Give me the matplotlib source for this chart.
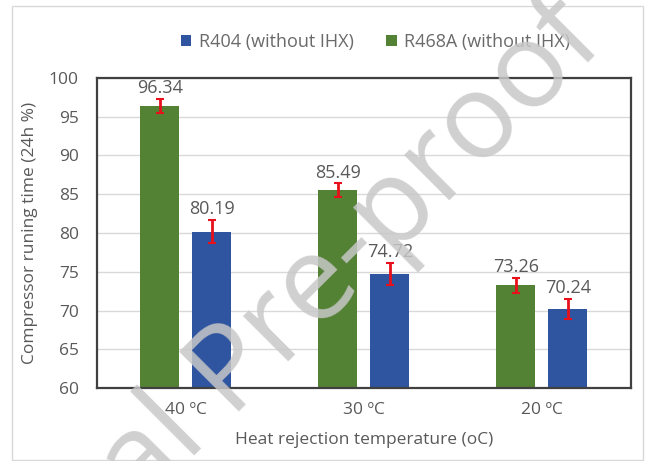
import matplotlib.pyplot as plt
import numpy as np
from matplotlib.patches import Rectangle

plt.rcParams['font.family'] = ['Open Sans', 'DejaVu Sans']

temps = ["40 ºC", "30 ºC", "20 ºC"]
r468a = [96.34, 85.49, 73.26]
r404 = [80.19, 74.72, 70.24]
r468a_err = [0.9, 0.9, 1.0]
r404_err = [1.5, 1.4, 1.3]

green = "#548235"
blue = "#2F55A0"
grey_txt = "#595959"

fig = plt.figure(figsize=(6.45, 4.61), dpi=100)
ax = fig.add_axes([0.150, 0.158, 0.828, 0.673])

x = np.arange(len(temps))
w = 0.22
off = 0.146
b1 = ax.bar(x - off, r468a, w, color=green, label="R468A (without IHX)", zorder=2)
b2 = ax.bar(x + off, r404, w, color=blue, label="R404 (without IHX)", zorder=2)
ax.errorbar(x - off, r468a, yerr=r468a_err, fmt="none", ecolor="#e8101a",
            elinewidth=2, capsize=3, capthick=1.5, zorder=3)
ax.errorbar(x + off, r404, yerr=r404_err, fmt="none", ecolor="#e8101a",
            elinewidth=2, capsize=3, capthick=1.5, zorder=3)

for xs, vals, errs in [(x - off, r468a, r468a_err), (x + off, r404, r404_err)]:
    for xi, v, e in zip(xs, vals, errs):
        ax.text(xi, v + e + 0.25, f"{v:.2f}", ha="center", va="bottom",
                fontsize=13, color=grey_txt, zorder=4)

ax.set_ylim(60, 100)
ax.set_xlim(-0.5, 2.5)
ax.set_yticks(range(60, 101, 5))
ax.set_xticks(x)
ax.set_xticklabels(temps)
ax.tick_params(axis="both", length=0, labelsize=12.5, labelcolor=grey_txt)
ax.tick_params(axis="y", pad=13)
ax.tick_params(axis="x", pad=10)
ax.yaxis.grid(True, color="#d9d9d9", linewidth=1, zorder=0)
ax.set_axisbelow(True)
for s in ax.spines.values():
    s.set_color("#404040")
    s.set_linewidth(1.6)

ax.set_ylabel("Compressor runing time (24h %)", fontsize=12.5, color=grey_txt, labelpad=8)
ax.set_xlabel("Heat rejection temperature (oC)", fontsize=12.5, color=grey_txt, labelpad=10)

handles = [b2, b1]
fig.legend(handles, [h.get_label() for h in handles], loc="center", ncol=2,
           bbox_to_anchor=(0.582, 0.909), frameon=False, fontsize=13,
           handlelength=0.6, handleheight=0.6, columnspacing=1.8,
           handletextpad=0.4, labelcolor="#6a6a6a")

# chart area border
fig.patches.append(Rectangle((0.0186, 0.002), 0.978, 0.985, transform=fig.transFigure,
                             fill=False, edgecolor="#d9d9d9", linewidth=1))

# watermark
fig.text(0.386, 0.205, "Journal Pre-proof", fontsize=86, color="#c8c8c8", alpha=0.85,
         rotation=45, ha="center", va="center", rotation_mode="anchor", zorder=10)

fig.savefig("out.png", dpi=100)
